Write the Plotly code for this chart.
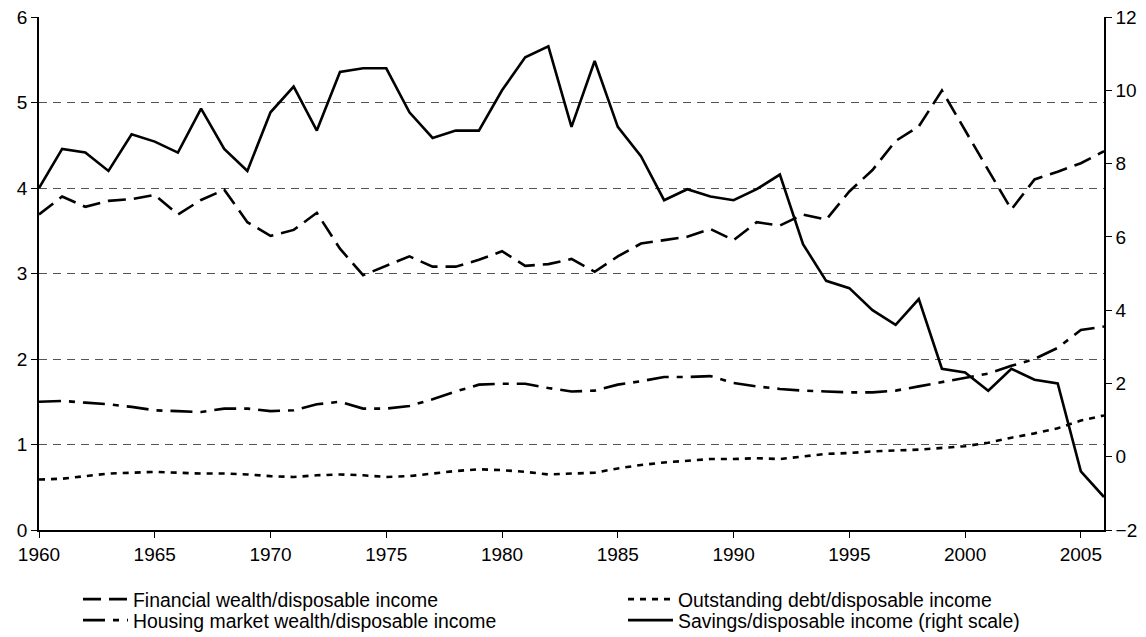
import plotly.graph_objects as go

years = list(range(1960, 2007))

financial_wealth = [3.69, 3.90, 3.78, 3.85, 3.87, 3.92, 3.69, 3.86, 3.98, 3.60,
                    3.44, 3.51, 3.71, 3.29, 2.98, 3.09, 3.20, 3.08, 3.08, 3.16,
                    3.26, 3.09, 3.11, 3.17, 3.02, 3.20, 3.35, 3.39, 3.43, 3.52,
                    3.39, 3.60, 3.56, 3.69, 3.63, 3.96, 4.21, 4.55, 4.72, 5.14,
                    4.67, 4.21, 3.75, 4.10, 4.19, 4.29, 4.43]

outstanding_debt = [0.59, 0.60, 0.63, 0.66, 0.67, 0.68, 0.67, 0.66, 0.66, 0.65,
                    0.63, 0.62, 0.64, 0.65, 0.64, 0.62, 0.63, 0.66, 0.69, 0.71,
                    0.70, 0.68, 0.65, 0.66, 0.67, 0.72, 0.76, 0.79, 0.81, 0.83,
                    0.83, 0.84, 0.83, 0.86, 0.89, 0.90, 0.92, 0.93, 0.94, 0.96,
                    0.98, 1.02, 1.08, 1.13, 1.19, 1.28, 1.34]

housing_wealth = [1.50, 1.51, 1.49, 1.47, 1.44, 1.40, 1.39, 1.38, 1.42, 1.42,
                  1.39, 1.40, 1.47, 1.50, 1.42, 1.42, 1.45, 1.53, 1.62, 1.70,
                  1.71, 1.71, 1.66, 1.62, 1.63, 1.70, 1.74, 1.79, 1.79, 1.80,
                  1.72, 1.68, 1.65, 1.63, 1.62, 1.61, 1.61, 1.63, 1.68, 1.73,
                  1.78, 1.83, 1.92, 2.00, 2.13, 2.34, 2.38]

savings = [7.33, 8.4, 8.3, 7.8, 8.8, 8.6, 8.3, 9.5, 8.4, 7.8,
           9.4, 10.1, 8.9, 10.5, 10.6, 10.6, 9.4, 8.7, 8.9, 8.9,
           10.0, 10.9, 11.2, 9.0, 10.8, 9.0, 8.2, 7.0, 7.3, 7.1,
           7.0, 7.3, 7.7, 5.8, 4.8, 4.6, 4.0, 3.6, 4.3, 2.4,
           2.3, 1.8, 2.4, 2.1, 2.0, -0.4, -1.1]

left_ticks = [0, 1, 2, 3, 4, 5, 6]
right_ticks = [-2, 0, 2, 4, 6, 8, 10, 12]
x_ticks = [1960, 1965, 1970, 1975, 1980, 1985, 1990, 1995, 2000, 2005]

names = ["Financial wealth/disposable income",
         "Outstanding debt/disposable income",
         "Housing market wealth/disposable income",
         "Savings/disposable income (right scale)"]

FONT = "Liberation Sans, Arial, sans-serif"
FS = 19
LFS = 19.4
LW = 2.6
W, H = 1138, 629  # page body has an 8px margin

fig = go.Figure()
fig.add_trace(go.Scatter(x=years, y=financial_wealth, mode="lines", name=names[0],
                         legend="legend",
                         line=dict(color="black", width=LW, dash="18px,8px")))
fig.add_trace(go.Scatter(x=years, y=outstanding_debt, mode="lines", name=names[1],
                         legend="legend2",
                         line=dict(color="black", width=LW, dash="6px,6px")))
fig.add_trace(go.Scatter(x=years, y=housing_wealth, mode="lines", name=names[2],
                         legend="legend3",
                         line=dict(color="black", width=LW, dash="22px,8px,6px,8px")))
fig.add_trace(go.Scatter(x=years, y=savings, mode="lines", name=names[3], yaxis="y2",
                         legend="legend4",
                         line=dict(color="black", width=LW)))

leg_common = dict(orientation="v", xref="container", yref="container",
                  xanchor="left", yanchor="top", bgcolor="rgba(0,0,0,0)",
                  font=dict(family=FONT, size=LFS, color="black"),
                  tracegroupgap=0, itemwidth=45, traceorder="normal")

ROW1, ROW2 = 572, 593
COL1, COL2 = 70, 615

axis_common = dict(ticks="outside", ticklen=6, tickcolor="black", showline=True,
                   linecolor="black", linewidth=1.5, zeroline=False,
                   automargin=False, ticklabeloverflow="allow",
                   tickfont=dict(size=FS))

fig.update_layout(
    width=W, height=H,
    margin=dict(l=31, r=42, t=9, b=107, autoexpand=False),
    paper_bgcolor="white", plot_bgcolor="white",
    font=dict(family=FONT, size=FS, color="black"),
    showlegend=True,
    legend=dict(x=COL1 / W, y=1 - ROW1 / H, **leg_common),
    legend2=dict(x=COL2 / W, y=1 - ROW1 / H, **leg_common),
    legend3=dict(x=COL1 / W, y=1 - ROW2 / H, **leg_common),
    legend4=dict(x=COL2 / W, y=1 - ROW2 / H, **leg_common),
    xaxis=dict(range=[1960, 2006], tickvals=x_ticks, showgrid=False, **axis_common),
    yaxis=dict(range=[0, 6], tickvals=left_ticks, showgrid=True, gridcolor="#555555",
               griddash="8px,6px", gridwidth=1, **axis_common),
    yaxis2=dict(range=[-2, 12], tickvals=right_ticks, overlaying="y", side="right",
                showgrid=False, **axis_common),
)

fig.write_html("out.html")
